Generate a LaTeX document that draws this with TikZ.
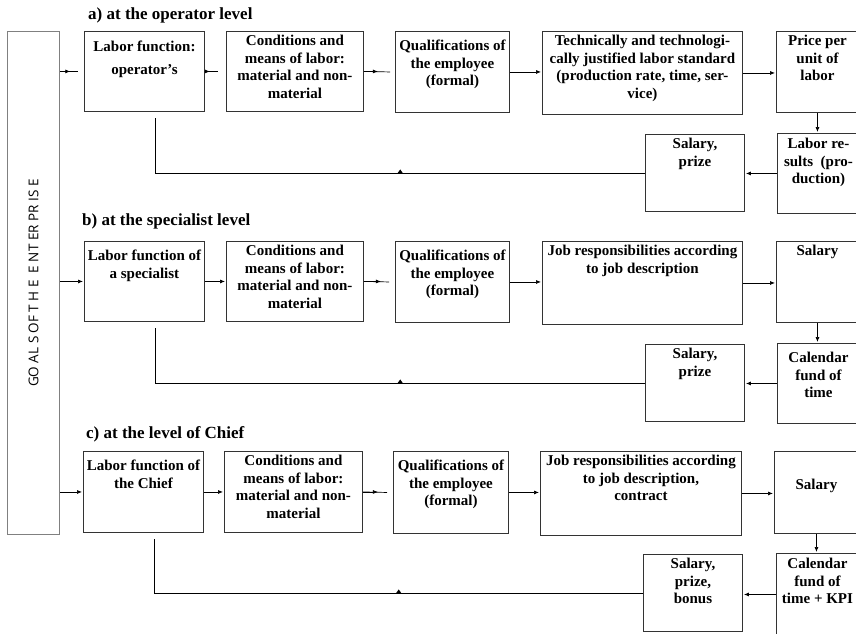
\documentclass[tikz,border=0pt]{standalone}
\usepackage{fontspec}
\setmainfont{Liberation Serif}
\newfontfamily\goalsfont{Open Sans}
\usetikzlibrary{arrows.meta, decorations.markings}

\tikzset{
  stage/.style={draw=black!80, line width=0.9pt, inner sep=0pt, anchor=north west,
    font=\bfseries\fontsize{15}{17.5}\selectfont},
  goalbox/.style={draw=black!50, line width=1.3pt, inner sep=0pt, anchor=north west,
    minimum width=52pt, minimum height=503pt},
  level/.style={anchor=base west, inner sep=0pt, font=\bfseries\fontsize{17}{20}\selectfont},
  flow/.style={line width=0.7pt, shorten >=1pt, -{Latex[length=5pt,width=4pt]}},
  tipflow/.style={line width=0.7pt, -{Latex[length=5pt,width=4pt]}},
  backline/.style={line width=0.7pt},
  backmark/.style={line width=0.7pt, decoration={markings,
    mark=at position 0.5 with {\fill (-2.5pt,0pt) -- (2.5pt,0pt) -- (0pt,-3.5pt) -- cycle;}},
    postaction={decorate}},
}
% box text: width, height, top padding, lines
\newcommand{\stagetext}[4]{\parbox[c][#2][t]{#1}{\centering\vspace*{#3}\strut#4}}

\begin{document}
\begin{tikzpicture}[x=1pt,y=-1pt]
  \useasboundingbox (0,0) rectangle (856,633);
  \clip (0,0) rectangle (856,633);

  % goals of the enterprise
  \node[goalbox] (goals) at (7,31)
    {\rotatebox{90}{\goalsfont\fontsize{13.5}{15}\selectfont GO AL S OF T H E\ \ E NT ER PR IS E}};

  % a) operator level
  \node[level] (ta) at (88,19) {a) at the operator level};
  \node[stage] (a1) at (84,31) {\stagetext{120pt}{80pt}{8pt}{Labor function:\\[5pt]operator’s}};
  \node[stage] (a2) at (226,31) {\stagetext{137pt}{80pt}{2.2pt}{Conditions and\\means of labor:\\material and non-\\material}};
  \node[stage] (a3) at (395,31) {\stagetext{114pt}{81pt}{7.2pt}{Qualifications of\\the employee\\(formal)}};
  \node[stage] (a4) at (542,31) {\stagetext{200pt}{83pt}{2.2pt}{Technically and technologi-\\cally justified labor standard\\(production rate, time, ser-\\vice)}};
  \node[stage] (a5) at (776,31) {\stagetext{82pt}{81pt}{2.2pt}{Price per\\unit of\\labor}};
  \node[stage] (a6) at (777,133) {\stagetext{82pt}{80pt}{3pt}{Labor re-\\sults\ \ (pro-\\duction)}};
  \node[stage] (a7) at (645,134) {\stagetext{99pt}{77pt}{2pt}{Salary,\\prize}};

  \draw[backline] (goals.east |- a1.west) -- ([xshift=-6pt]a1.west);
  \draw[tipflow] (goals.east |- a1.west) -- ++(10pt,0pt);
  \draw[backline] (a1.east) -- ([xshift=-8pt]a2.west);
  \draw[tipflow] (a1.east) -- ++(5pt,0pt);
  \draw[backline] (a2.east) -- ([xshift=-5pt]a3.west);
  \draw[tipflow] (a2.east) -- ++(14pt,0pt);
  \draw[flow] (a3.east) -- (a3.east -| a4.west);
  \draw[flow] (a4.east) -- (a4.east -| a5.west);
  \draw[flow] (a5.south) -- (a5.south |- a6.north);
  \draw[flow] (a6.west) -- (a6.west -| a7.east);
  \coordinate (aturn) at ([xshift=11pt]a1.south |- a7.west);
  \draw[backmark] (a7.west) -- (aturn);
  \draw[backline] (aturn) -- ([xshift=11pt,yshift=-6pt]a1.south);

  % b) specialist level
  \node[level] (tb) at (82,225) {b) at the specialist level};
  \node[stage] (b1) at (84,241) {\stagetext{120pt}{80pt}{7.2pt}{Labor function of\\a specialist}};
  \node[stage] (b2) at (226,241) {\stagetext{137pt}{80pt}{2.2pt}{Conditions and\\means of labor:\\material and non-\\material}};
  \node[stage] (b3) at (395,241) {\stagetext{114pt}{81pt}{7.2pt}{Qualifications of\\the employee\\(formal)}};
  \node[stage] (b4) at (542,241) {\stagetext{200pt}{83pt}{2.2pt}{Job responsibilities according\\to job description}};
  \node[stage] (b5) at (776,241) {\stagetext{82pt}{81pt}{2.2pt}{Salary}};
  \node[stage] (b6) at (777,343) {\stagetext{82pt}{80pt}{7.2pt}{Calendar\\fund of\\time}};
  \node[stage] (b7) at (645,344) {\stagetext{99pt}{77pt}{2pt}{Salary,\\prize}};

  \draw[flow] (goals.east |- b1.west) -- (b1.west);
  \draw[flow] (b1.east) -- (b1.east -| b2.west);
  \draw[backline] (b2.east) -- ([xshift=-6pt]b3.west);
  \draw[tipflow] (b2.east) -- ++(17pt,0pt);
  \draw[flow] (b3.east) -- (b3.east -| b4.west);
  \draw[flow] (b4.east) -- (b4.east -| b5.west);
  \draw[flow] (b5.south) -- (b5.south |- b6.north);
  \draw[flow] (b6.west) -- (b6.west -| b7.east);
  \coordinate (bturn) at ([xshift=11pt]b1.south |- b7.west);
  \draw[backmark] (b7.west) -- (bturn);
  \draw[backline] (bturn) -- ([xshift=11pt,yshift=-6pt]b1.south);

  % c) level of chief
  \node[level] (tc) at (86,438) {c) at the level of Chief};
  \node[stage] (c1) at (83,451) {\stagetext{120pt}{81pt}{7.2pt}{Labor function of\\the Chief}};
  \node[stage] (c2) at (224,451) {\stagetext{138pt}{81pt}{2.2pt}{Conditions and\\means of labor:\\material and non-\\material}};
  \node[stage] (c3) at (393,451) {\stagetext{115pt}{82pt}{7.2pt}{Qualifications of\\the employee\\(formal)}};
  \node[stage] (c4) at (540,451) {\stagetext{201pt}{84pt}{2.2pt}{Job responsibilities according\\to job description,\\contract}};
  \node[stage] (c5) at (774,451) {\stagetext{84pt}{82pt}{26pt}{Salary}};
  \node[stage] (c6) at (776,553) {\stagetext{82pt}{82pt}{3pt}{Calendar\\fund of\\time + KPI}};
  \node[stage] (c7) at (643,554) {\stagetext{99pt}{77pt}{2pt}{Salary,\\prize,\\bonus}};

  \draw[flow] (goals.east |- c1.west) -- (c1.west);
  \draw[flow] (c1.east) -- (c1.east -| c2.west);
  \draw[backline] (c2.east) -- ([xshift=-6pt]c3.west);
  \draw[tipflow] (c2.east) -- ++(15pt,0pt);
  \draw[flow] (c3.east) -- (c3.east -| c4.west);
  \draw[flow] (c4.east) -- (c4.east -| c5.west);
  \draw[flow] (c5.south) -- (c5.south |- c6.north);
  \draw[flow] (c6.west) -- (c6.west -| c7.east);
  \coordinate (cturn) at ([xshift=11pt]c1.south |- c7.west);
  \draw[backmark] (c7.west) -- (cturn);
  \draw[backline] (cturn) -- ([xshift=11pt,yshift=-6pt]c1.south);
\end{tikzpicture}
\end{document}
